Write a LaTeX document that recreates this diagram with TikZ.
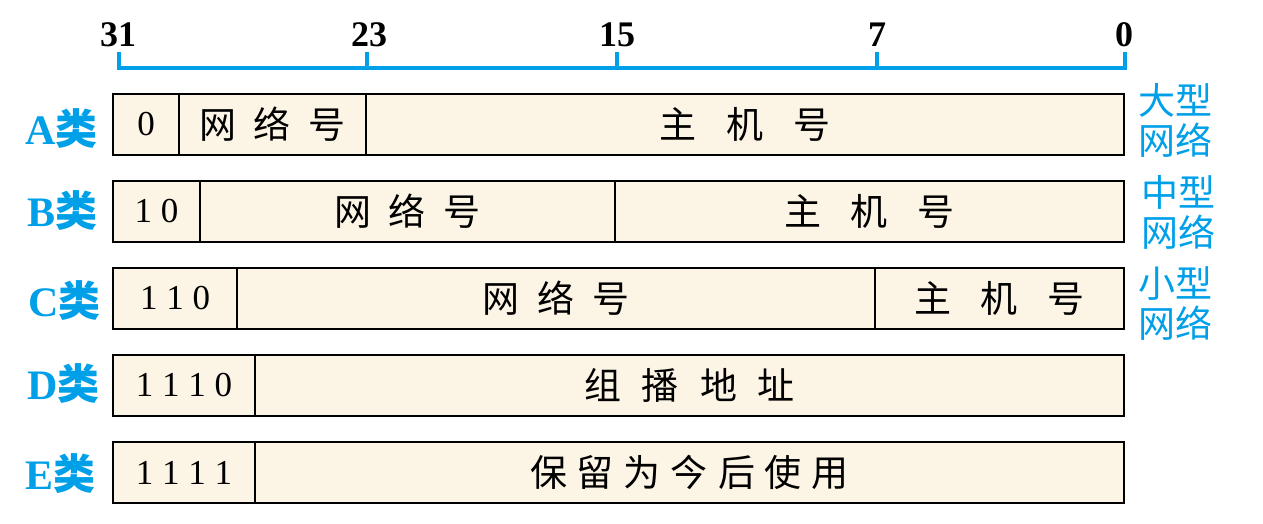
\documentclass[tikz,border=0pt]{standalone}
\usepackage{fontspec}
\setmainfont{Liberation Serif}
\newfontfamily\cjk{Noto Sans CJK SC}
\definecolor{netblue}{HTML}{00A0E9}
\definecolor{fieldfill}{HTML}{FCF4E4}
% gaps between spaced-out CJK characters
\newcommand\wgap{\hspace{18pt}}
\newcommand\hgap{\hspace{30pt}}
\newcommand\mgap{\hspace{21pt}}
\newcommand\ngap{\hspace{10pt}}
% \fieldbox{name}{left x}{right x}{top y}{style}{text}
\newcommand\fieldbox[6]{\node[field, minimum width={#3pt-#2pt}, #5] (#1) at (#2,#4) {#6};}
\tikzset{
  field/.style={draw=black, line width=2pt, fill=fieldfill, inner sep=0pt,
    minimum height=61pt, anchor=north west},
  ruler/.style={draw=netblue, line width=4pt},
  bitlabel/.style={font=\fontsize{36}{36}\selectfont\bfseries, anchor=base, inner sep=0pt},
  classlabel/.style={text=netblue, font=\fontsize{42}{42}\selectfont\bfseries,
    anchor=base east, inner sep=0pt},
  sizelabel/.style={text=netblue, font=\cjk\fontsize{37}{40}\selectfont, align=left,
    anchor=west, inner sep=0pt},
  cjktext/.style={font=\cjk\fontsize{37}{37}\selectfont},
  bits/.style={font=\fontsize{35}{35}\selectfont},
}
\begin{document}
\begin{tikzpicture}[x=1pt, y=-1pt]
\useasboundingbox (0,0) rectangle (1263,523);

% bit ruler
\coordinate (b31) at (119,68);
\coordinate (b23) at (367,68);
\coordinate (b15) at (617,68);
\coordinate (b7)  at (877,68);
\coordinate (b0)  at (1125,68);
\draw[ruler] ([yshift=16pt]b31) -- (b31) -- (b0) -- ([yshift=16pt]b0);
\foreach \b in {b23,b15,b7}
  \draw[ruler] (\b) -- ([yshift=16pt]\b);
\node[bitlabel] (l31) at (118,46) {31};
\node[bitlabel] (l23) at (369,46) {23};
\node[bitlabel] (l15) at (617,46) {15};
\node[bitlabel] (l7)  at (877,46) {7};
\node[bitlabel] (l0)  at (1124,46) {0};

% class A
\fieldbox{a1}{112}{178}{93}{bits}{0}
\fieldbox{a2}{178}{365}{93}{cjktext}{网\wgap 络\wgap 号}
\fieldbox{a3}{365}{1123}{93}{cjktext}{主\hgap 机\hgap 号}
% class B
\fieldbox{b1}{112}{199}{180}{bits}{1 0}
\fieldbox{b2}{199}{614}{180}{cjktext}{网\wgap 络\wgap 号}
\fieldbox{b3}{614}{1123}{180}{cjktext}{主\hgap 机\hgap 号}
% class C
\fieldbox{c1}{112}{236}{267}{bits}{1 1 0}
\fieldbox{c2}{236}{874}{267}{cjktext}{网\wgap 络\wgap 号}
\fieldbox{c3}{874}{1123}{267}{cjktext}{主\hgap 机\hgap 号}
% class D
\fieldbox{d1}{112}{254}{354}{bits}{1 1 1 0}
\fieldbox{d2}{254}{1123}{354}{cjktext}{组\mgap 播\mgap 地\mgap 址}
% class E
\fieldbox{e1}{112}{254}{441}{bits}{1 1 1 1}
\fieldbox{e2}{254}{1123}{441}{cjktext}{保\ngap 留\ngap 为\ngap 今\ngap 后\ngap 使\ngap 用}

% class names
\node[classlabel] (ca) at (98,144) {A{\cjk 类}};
\node[classlabel] (cb) at (98,226) {B{\cjk 类}};
\node[classlabel] (cc) at (101,316) {C{\cjk 类}};
\node[classlabel] (cd) at (100,399) {D{\cjk 类}};
\node[classlabel] (ce) at (96,489) {E{\cjk 类}};

% network sizes
\node[sizelabel] (sa) at (1138,120) {大型\\网络};
\node[sizelabel] (sb) at (1141,212) {中型\\网络};
\node[sizelabel] (sc) at (1138,304) {小型\\网络};
\end{tikzpicture}
\end{document}
